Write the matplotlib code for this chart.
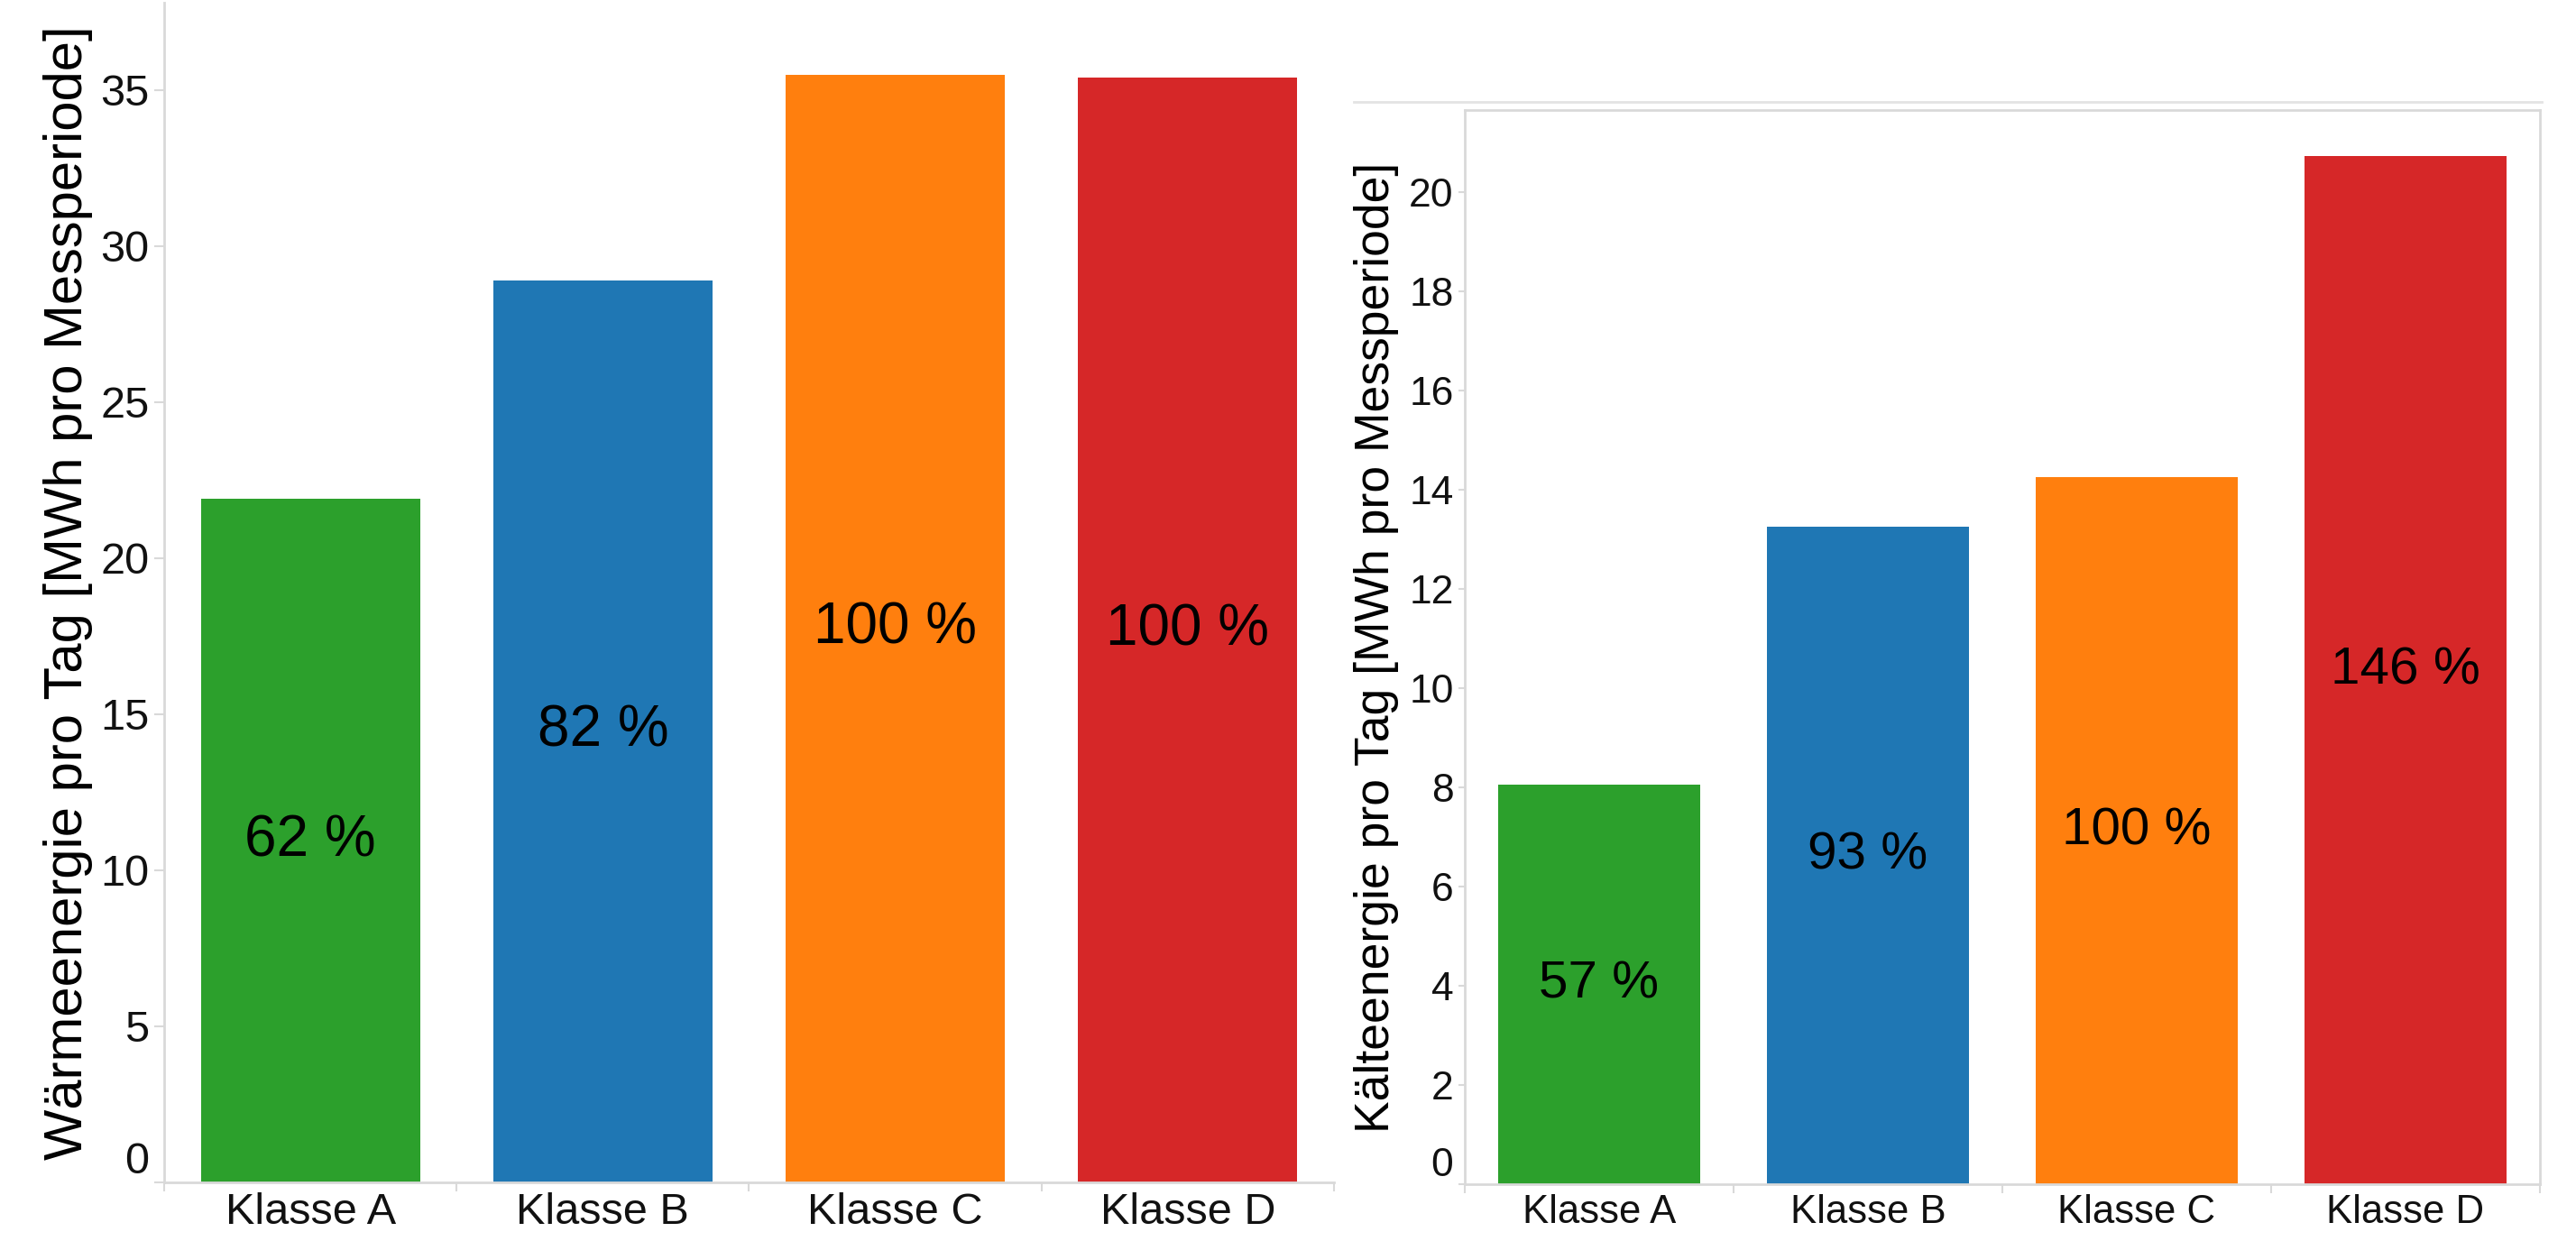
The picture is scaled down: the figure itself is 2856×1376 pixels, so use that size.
import matplotlib
matplotlib.use("Agg")
import matplotlib.pyplot as plt
from matplotlib.lines import Line2D

plt.rcParams['font.family'] = ['Liberation Sans', 'DejaVu Sans']

categories = ["Klasse A", "Klasse B", "Klasse C", "Klasse D"]
colors = ["#2ca02c", "#1f77b4", "#ff7f0e", "#d62728"]

heat_values = [21.9, 28.9, 35.5, 35.4]
heat_pct = [62, 82, 100, 100]
heat_ticks = [0, 5, 10, 15, 20, 25, 30, 35]

cold_values = [8.05, 13.25, 14.25, 20.72]
cold_pct = [57, 93, 100, 146]
cold_ticks = [0, 2, 4, 6, 8, 10, 12, 14, 16, 18, 20]

W, H = 2856, 1376
fig = plt.figure(figsize=(W / 100, H / 100), dpi=100)

gray = "#d9d9d9"


def fx(px):
    return px / W


def fy(py):
    return 1 - py / H


def setup(ax, values, pct, ticks, ylim, ylabel, tick_fs, xlab_fs, lab_fs, pct_fs, ytick_len, full_box, labelpad):
    x = list(range(len(categories)))
    ax.bar(x, values, width=0.75, color=colors, zorder=2)
    for xi, v, p in zip(x, values, pct):
        ax.text(xi, v / 2, f"{p} %", ha="center", va="center", fontsize=pct_fs, color="black", zorder=3)
    ax.set_xlim(-0.5, 3.5)
    ax.set_ylim(*ylim)
    ax.set_xticks(x)
    ax.set_xticklabels(categories, fontsize=xlab_fs)
    ax.set_xticks([-0.5, 0.5, 1.5, 2.5, 3.5], minor=True)
    ax.tick_params(axis="x", which="major", length=0, pad=8, colors="#111111")
    ax.tick_params(axis="x", which="minor", length=7, width=1.5, color=gray, direction="out")
    ax.set_yticks(ticks)
    ax.tick_params(axis="y", which="major", length=ytick_len, width=1.5, color=gray, labelsize=tick_fs,
                   labelcolor="#111111", pad=4)
    lbls = ax.get_yticklabels()
    lbls[0].set_va("bottom")
    ax.set_ylabel(ylabel, fontsize=lab_fs, color="black", labelpad=labelpad)
    for name, sp in ax.spines.items():
        sp.set_color(gray)
        sp.set_linewidth(2)
    if not full_box:
        ax.spines["top"].set_visible(False)
        ax.spines["right"].set_visible(False)
    ax.set_facecolor("white")


ax1 = fig.add_axes([fx(182), fy(1311), fx(1479 - 182), (1311 - 3) / H])
setup(ax1, heat_values, heat_pct, heat_ticks, (0, 37.8),
      "Wärmeenergie pro Tag [MWh pro Messperiode]",
      tick_fs=35, xlab_fs=35, lab_fs=43, pct_fs=46, ytick_len=8, full_box=False, labelpad=6)

ax2 = fig.add_axes([fx(1624), fy(1313), fx(2816 - 1624), (1313 - 122) / H])
setup(ax2, cold_values, cold_pct, cold_ticks, (0, 21.65),
      "Kälteenergie pro Tag [MWh pro Messperiode]",
      tick_fs=32, xlab_fs=31.5, lab_fs=38.5, pct_fs=42, ytick_len=5, full_box=True, labelpad=8)

fig.add_artist(Line2D([fx(1501), fx(2818)], [fy(113), fy(113)], color="#e3e3e3", linewidth=2,
                      transform=fig.transFigure))

fig.savefig("out.png", dpi=100, facecolor="white")
